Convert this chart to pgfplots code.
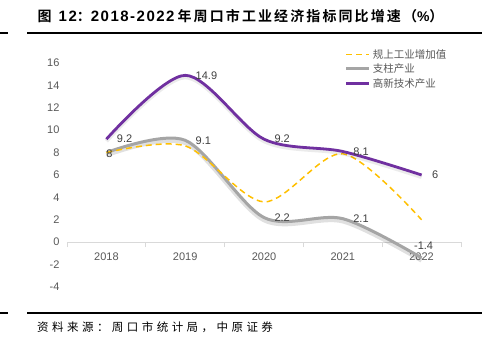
\documentclass[border=0pt]{standalone}
\usepackage{pgfplots}
\pgfplotsset{compat=1.18}
\usepackage{pgfplotstable}
\usepackage{fontspec}
\setmainfont{Liberation Sans}
\newfontfamily\cjk{Noto Sans CJK SC}
\newfontfamily\cjkt[LetterSpace=15]{Noto Sans CJK SC Bold}
\newfontfamily\cjks[LetterSpace=30]{Noto Sans CJK SC}
\newfontfamily\tnum[LetterSpace=10]{Liberation Sans Bold}
\definecolor{cy}{HTML}{FFC000}
\definecolor{cg}{HTML}{A5A5A5}
\definecolor{cp}{HTML}{7030A0}
\definecolor{tl}{HTML}{595959}
\definecolor{dl}{HTML}{404040}

\pgfplotstableread{
x y
0 8.0
1 8.6
2 3.6
3 7.9
4 2.0
}\guishang
\pgfplotstableread{
x y
0 8
1 9.1
2 2.2
3 2.1
4 -1.4
}\zhizhu
\pgfplotstableread{
x y
0 9.2
1 14.9
2 9.2
3 8.1
4 6
}\gaoxin
\pgfplotstableread{
x y lab
0 9.2 9.2
1 14.9 14.9
2 9.2 9.2
3 8.1 8.1
4 6 6
1 9.1 9.1
2 2.2 2.2
3 2.1 2.1
}\labR
\pgfplotstableread{
x y lab
0 8 8
}\labC
\pgfplotstableread{
x y lab
4 -1.4 -1.4
}\labS

\begin{document}
\begin{tikzpicture}[x=1bp,y=1bp]
\useasboundingbox (0,0) rectangle (491,352);
\fill[white] (0,0) rectangle (491,352);
\draw[line width=2bp] (27,319) -- (482,319);
\draw[line width=2bp] (0,319) -- (8,319);
\draw[line width=2bp] (27,39) -- (482,39);
\draw[line width=2bp] (0,39) -- (8,39);
\node[anchor=base west, inner sep=0, font=\fontsize{14bp}{16bp}\selectfont] at (37.5,331)
  {{\cjkt 图}\hspace{7bp}{\fontsize{15bp}{16bp}\selectfont\tnum 12}{\cjkt ：}{\fontsize{15bp}{16bp}\selectfont\tnum 2018-2022}\hspace{3bp}{\cjkt 年周口市工业经济指标同比增速（}{\tnum\%}{\cjkt ）}};
\node[anchor=base west, inner sep=0, font=\fontsize{11.5bp}{13bp}\selectfont] at (37,21)
  {\cjks 资料来源：周口市统计局，中原证券};
\begin{axis}[
  at={(67bp,65bp)}, anchor=south west,
  scale only axis, width=394bp, height=224bp,
  xmin=-0.5, xmax=4.5, ymin=-4, ymax=16,
  axis x line*=middle, axis y line*=left,
  y axis line style={draw=none},
  x axis line style={draw=black!15, line width=0.8bp},
  hide obscured x ticks=false, hide obscured y ticks=false,
  xtick={0,...,4}, xticklabels={2018,2019,2020,2021,2022},
  ytick={-4,-2,...,16},
  major tick length=0pt,
  minor xtick={-0.5,0.5,...,4.5},
  minor tick length=5bp,
  tick align=outside,
  minor x tick style={draw=black!15, line width=0.8bp},
  ticklabel style={font=\fontsize{11bp}{13bp}\selectfont, text=tl},
  /pgf/number format/assume math mode=true,
  yticklabel style={xshift=-4bp},
  xticklabel style={yshift=-7bp},
  clip=false,
  legend style={at={(rel axis cs:0.705,1.07)}, anchor=north west, draw=none, fill=none,
    font=\cjk\fontsize{10.5bp}{12bp}\selectfont, text=tl, row sep=0bp, inner sep=0pt},
  legend cell align=left,
  legend image code/.code={\draw[#1] (0bp,0bp) -- (23bp,0bp);},
]
\addlegendimage{cy, line width=1.5bp, dash pattern=on 6bp off 4bp}
\addlegendentry{规上工业增加值}
\addlegendimage{cg, line width=3bp}
\addlegendentry{支柱产业}
\addlegendimage{cp, line width=3bp}
\addlegendentry{高新技术产业}

\addplot[forget plot, smooth, mark=none, black, opacity=0.12, line width=4.5bp, yshift=-2.5bp] table {\zhizhu};
\addplot[forget plot, smooth, mark=none, cg, line width=3bp] table {\zhizhu};
\addplot[forget plot, smooth, mark=none, cy, line width=1.5bp, dash pattern=on 6bp off 4bp] table {\guishang};
\addplot[forget plot, smooth, mark=none, black, opacity=0.08, line width=4bp, yshift=-2bp] table {\gaoxin};
\addplot[forget plot, smooth, mark=none, cp, line width=2.8bp] table {\gaoxin};

\addplot[forget plot, draw=none, mark=none, nodes near coords, point meta=explicit symbolic,
  nodes near coords style={anchor=west, xshift=7bp, font=\fontsize{11bp}{13bp}\selectfont, text=dl}]
  table[meta=lab] {\labR};
\addplot[forget plot, draw=none, mark=none, nodes near coords, point meta=explicit symbolic,
  nodes near coords style={anchor=center, xshift=3bp, yshift=-1bp, font=\fontsize{11bp}{13bp}\selectfont, text=dl}]
  table[meta=lab] {\labC};
\addplot[forget plot, draw=none, mark=none, nodes near coords, point meta=explicit symbolic,
  nodes near coords style={anchor=south, xshift=2bp, yshift=5bp, font=\fontsize{11bp}{13bp}\selectfont, text=dl}]
  table[meta=lab] {\labS};
\end{axis}
\end{tikzpicture}
\end{document}
